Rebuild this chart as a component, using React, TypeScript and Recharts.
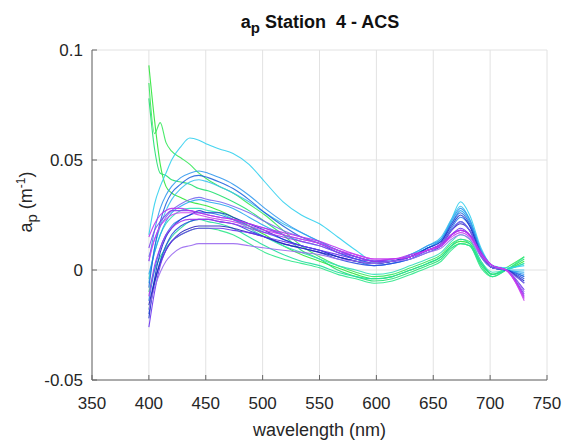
import React from "react";
import { LineChart, Line, XAxis, YAxis, CartesianGrid } from "recharts";

// wavelength grid (nm)
const wavelengths = [400, 405, 410, 415, 420, 428, 436, 444, 452, 462, 474, 488, 502, 518, 534, 550, 566, 582, 598, 614, 630, 645, 657, 666, 674, 682, 692, 702, 714, 730];

// a_p spectra (m^-1), one per cast
const cast01 = [0.093, 0.068, 0.048, 0.038, 0.035, 0.033, 0.031, 0.03, 0.029, 0.027, 0.024, 0.02, 0.016, 0.011, 0.007, 0.004, 0.001, -0.002, -0.004, -0.003, 0.0, 0.003, 0.006, 0.011, 0.013, 0.012, 0.003, -0.002, 0.0, 0.004];
const cast02 = [0.085, 0.062, 0.067, 0.058, 0.054, 0.051, 0.048, 0.044, 0.041, 0.038, 0.035, 0.03, 0.025, 0.018, 0.011, 0.006, 0.002, -0.001, -0.003, -0.002, 0.001, 0.004, 0.007, 0.012, 0.014, 0.013, 0.004, -0.002, 0.001, 0.006];
const cast03 = [0.078, 0.055, 0.044, 0.043, 0.041, 0.04, 0.039, 0.037, 0.036, 0.034, 0.031, 0.027, 0.022, 0.016, 0.009, 0.005, 0.0, -0.003, -0.005, -0.004, -0.001, 0.002, 0.005, 0.01, 0.012, 0.011, 0.002, -0.003, 0.0, 0.005];
const cast04 = [-0.01, 0.0, 0.006, 0.01, 0.013, 0.016, 0.018, 0.019, 0.019, 0.018, 0.016, 0.012, 0.008, 0.005, 0.003, 0.001, -0.002, -0.004, -0.006, -0.005, -0.002, 0.001, 0.004, 0.009, 0.012, 0.011, 0.001, -0.003, 0.0, 0.006];
const cast05 = [-0.018, -0.006, 0.004, 0.011, 0.015, 0.019, 0.022, 0.023, 0.022, 0.021, 0.019, 0.015, 0.011, 0.007, 0.004, 0.002, -0.001, -0.003, -0.004, -0.003, 0.0, 0.003, 0.006, 0.011, 0.014, 0.012, 0.003, -0.002, 0.0, 0.003];
const cast06 = [-0.004, 0.008, 0.016, 0.021, 0.024, 0.027, 0.028, 0.028, 0.027, 0.026, 0.023, 0.019, 0.015, 0.011, 0.008, 0.005, 0.002, 0.0, -0.002, -0.001, 0.002, 0.005, 0.008, 0.013, 0.016, 0.014, 0.004, -0.001, 0.0, 0.003];
const cast07 = [0.016, 0.03, 0.038, 0.044, 0.05, 0.056, 0.06, 0.059, 0.057, 0.055, 0.053, 0.048, 0.04, 0.031, 0.025, 0.021, 0.015, 0.009, 0.004, 0.004, 0.007, 0.01, 0.014, 0.023, 0.031, 0.025, 0.01, 0.002, 0.001, 0.002];
const cast08 = [-0.006, 0.01, 0.02, 0.027, 0.032, 0.037, 0.04, 0.041, 0.04, 0.038, 0.035, 0.031, 0.026, 0.021, 0.017, 0.013, 0.009, 0.006, 0.004, 0.004, 0.007, 0.011, 0.015, 0.023, 0.029, 0.023, 0.009, 0.002, 0.0, 0.0];
const cast09 = [-0.002, 0.008, 0.016, 0.022, 0.026, 0.029, 0.031, 0.032, 0.031, 0.03, 0.028, 0.024, 0.02, 0.016, 0.013, 0.011, 0.008, 0.005, 0.003, 0.004, 0.006, 0.01, 0.014, 0.021, 0.027, 0.022, 0.008, 0.002, 0.0, -0.001];
const cast10 = [0.004, 0.018, 0.028, 0.034, 0.038, 0.042, 0.044, 0.045, 0.044, 0.042, 0.039, 0.034, 0.028, 0.022, 0.017, 0.013, 0.009, 0.006, 0.004, 0.004, 0.007, 0.011, 0.014, 0.022, 0.028, 0.023, 0.009, 0.002, 0.0, -0.002];
const cast11 = [-0.014, 0.0, 0.01, 0.016, 0.02, 0.023, 0.025, 0.026, 0.026, 0.025, 0.023, 0.02, 0.017, 0.014, 0.011, 0.009, 0.006, 0.004, 0.002, 0.003, 0.005, 0.009, 0.012, 0.019, 0.024, 0.02, 0.007, 0.001, 0.0, -0.003];
const cast12 = [-0.008, 0.01, 0.022, 0.03, 0.035, 0.039, 0.042, 0.043, 0.042, 0.04, 0.037, 0.032, 0.026, 0.02, 0.015, 0.012, 0.008, 0.005, 0.003, 0.004, 0.006, 0.01, 0.013, 0.021, 0.026, 0.021, 0.008, 0.001, 0.0, -0.003];
const cast13 = [-0.02, -0.006, 0.004, 0.011, 0.016, 0.02, 0.022, 0.023, 0.023, 0.022, 0.021, 0.018, 0.015, 0.012, 0.01, 0.008, 0.005, 0.003, 0.002, 0.003, 0.005, 0.008, 0.011, 0.018, 0.022, 0.018, 0.006, 0.001, 0.0, -0.004];
const cast14 = [-0.022, -0.004, 0.008, 0.015, 0.019, 0.023, 0.025, 0.027, 0.026, 0.026, 0.024, 0.021, 0.018, 0.014, 0.011, 0.009, 0.006, 0.004, 0.003, 0.004, 0.006, 0.01, 0.013, 0.02, 0.025, 0.02, 0.007, 0.001, 0.0, -0.005];
const cast15 = [-0.016, -0.005, 0.003, 0.009, 0.013, 0.017, 0.019, 0.02, 0.02, 0.02, 0.019, 0.017, 0.015, 0.012, 0.01, 0.008, 0.006, 0.004, 0.003, 0.004, 0.006, 0.009, 0.012, 0.018, 0.021, 0.018, 0.007, 0.001, 0.0, -0.006];
const cast16 = [0.006, 0.014, 0.02, 0.024, 0.027, 0.03, 0.032, 0.033, 0.032, 0.031, 0.029, 0.026, 0.022, 0.018, 0.015, 0.012, 0.009, 0.006, 0.004, 0.004, 0.006, 0.009, 0.012, 0.018, 0.022, 0.018, 0.007, 0.002, 0.0, -0.006];
const cast17 = [-0.026, -0.01, 0.002, 0.009, 0.013, 0.016, 0.018, 0.019, 0.019, 0.019, 0.018, 0.017, 0.015, 0.013, 0.011, 0.009, 0.007, 0.005, 0.004, 0.004, 0.006, 0.009, 0.011, 0.016, 0.019, 0.016, 0.007, 0.002, 0.0, -0.009];
const cast18 = [0.01, 0.018, 0.022, 0.025, 0.027, 0.027, 0.027, 0.026, 0.025, 0.024, 0.023, 0.021, 0.019, 0.016, 0.014, 0.012, 0.009, 0.006, 0.004, 0.005, 0.006, 0.009, 0.011, 0.016, 0.018, 0.016, 0.007, 0.002, 0.0, -0.011];
const cast19 = [-0.018, -0.008, -0.001, 0.004, 0.007, 0.01, 0.011, 0.012, 0.012, 0.012, 0.012, 0.011, 0.01, 0.009, 0.008, 0.007, 0.005, 0.004, 0.003, 0.004, 0.005, 0.008, 0.01, 0.014, 0.016, 0.014, 0.006, 0.001, 0.0, -0.01];
const cast20 = [-0.012, 0.002, 0.01, 0.016, 0.019, 0.022, 0.023, 0.023, 0.023, 0.022, 0.021, 0.019, 0.017, 0.015, 0.013, 0.011, 0.008, 0.006, 0.004, 0.005, 0.006, 0.009, 0.011, 0.016, 0.018, 0.016, 0.007, 0.002, 0.0, -0.012];
const cast21 = [0.015, 0.021, 0.025, 0.027, 0.028, 0.028, 0.027, 0.026, 0.025, 0.024, 0.023, 0.021, 0.019, 0.017, 0.015, 0.013, 0.01, 0.007, 0.005, 0.005, 0.007, 0.009, 0.012, 0.016, 0.018, 0.016, 0.008, 0.002, 0.0, -0.013];
const cast22 = [0.004, 0.014, 0.02, 0.023, 0.025, 0.026, 0.026, 0.025, 0.024, 0.023, 0.022, 0.02, 0.018, 0.016, 0.014, 0.012, 0.009, 0.007, 0.005, 0.005, 0.006, 0.009, 0.011, 0.015, 0.017, 0.015, 0.007, 0.002, 0.0, -0.014];

const casts = [cast01, cast02, cast03, cast04, cast05, cast06, cast07, cast08, cast09, cast10, cast11, cast12, cast13, cast14, cast15, cast16, cast17, cast18, cast19, cast20, cast21, cast22];

const xTicks = [350, 400, 450, 500, 550, 600, 650, 700, 750];
const yTicks = [-0.05, 0, 0.05, 0.1];

// green -> cyan -> blue -> violet -> magenta
const lineColors = [
  "#2ee63a", "#35e85a", "#22e070", "#2ee88a", "#22dd9e", "#33e0b8",
  "#33d0ee", "#3cc0ee", "#28aaee", "#3399ee", "#2a7fee", "#2266dd",
  "#2a4fe0", "#1f33cc", "#2a22bb", "#7a6aee", "#6a33ee", "#8040ee",
  "#9a6af0", "#a033ee", "#bb33ee", "#cc3ff0",
];

const rows = wavelengths.map((wl, i) => {
  const row: any = { wl };
  casts.forEach((c, k) => {
    row["c" + k] = c[i];
  });
  return row;
});

const FONT = "'Liberation Sans', Arial, Helvetica, sans-serif";

export default function App() {
  return (
    <div style={{ position: "absolute", left: 0, top: 0, width: 562, height: 443, background: "#fff", fontFamily: FONT }}>
      <LineChart width={562} height={443} data={rows} margin={{ top: 50, right: 15, left: 0, bottom: 0 }}>
        <CartesianGrid stroke="#e2e2e2" strokeWidth={1} />
        <XAxis
          dataKey="wl"
          type="number"
          domain={[350, 750]}
          ticks={xTicks}
          height={63}
          stroke="#666"
          tickSize={-5}
          tickMargin={22}
          tick={{ fill: "#262626", fontSize: 17, fontFamily: FONT }}
          allowDataOverflow
        />
        <YAxis
          type="number"
          domain={[-0.05, 0.1]}
          ticks={yTicks}
          width={92}
          stroke="#666"
          tickSize={-5}
          tickMargin={14}
          tick={{ fill: "#262626", fontSize: 17, fontFamily: FONT }}
          allowDataOverflow
        />
        {casts.map((_, k) => (
          <Line
            key={k}
            type="monotone"
            dataKey={"c" + k}
            stroke={lineColors[k]}
            strokeWidth={1.1}
            strokeOpacity={0.9}
            dot={false}
            isAnimationActive={false}
          />
        ))}
      </LineChart>
      <div style={{ position: "absolute", left: 0, width: 640, top: 12, textAlign: "center", fontWeight: "bold", fontSize: 18, color: "#111" }}>
        a<sub style={{ fontSize: 15 }}>p</sub> Station&nbsp; 4 - ACS
      </div>
      <div style={{ position: "absolute", left: 92, width: 455, top: 420, textAlign: "center", fontSize: 18, color: "#262626" }}>
        wavelength (nm)
      </div>
      <div
        style={{
          position: "absolute",
          left: 27,
          top: 202,
          transform: "translate(-50%, -50%) rotate(-90deg)",
          whiteSpace: "nowrap",
          fontSize: 18,
          color: "#262626",
        }}
      >
        a<sub style={{ fontSize: 15 }}>p</sub> (m<sup style={{ fontSize: 12 }}>-1</sup>)
      </div>
    </div>
  );
}
